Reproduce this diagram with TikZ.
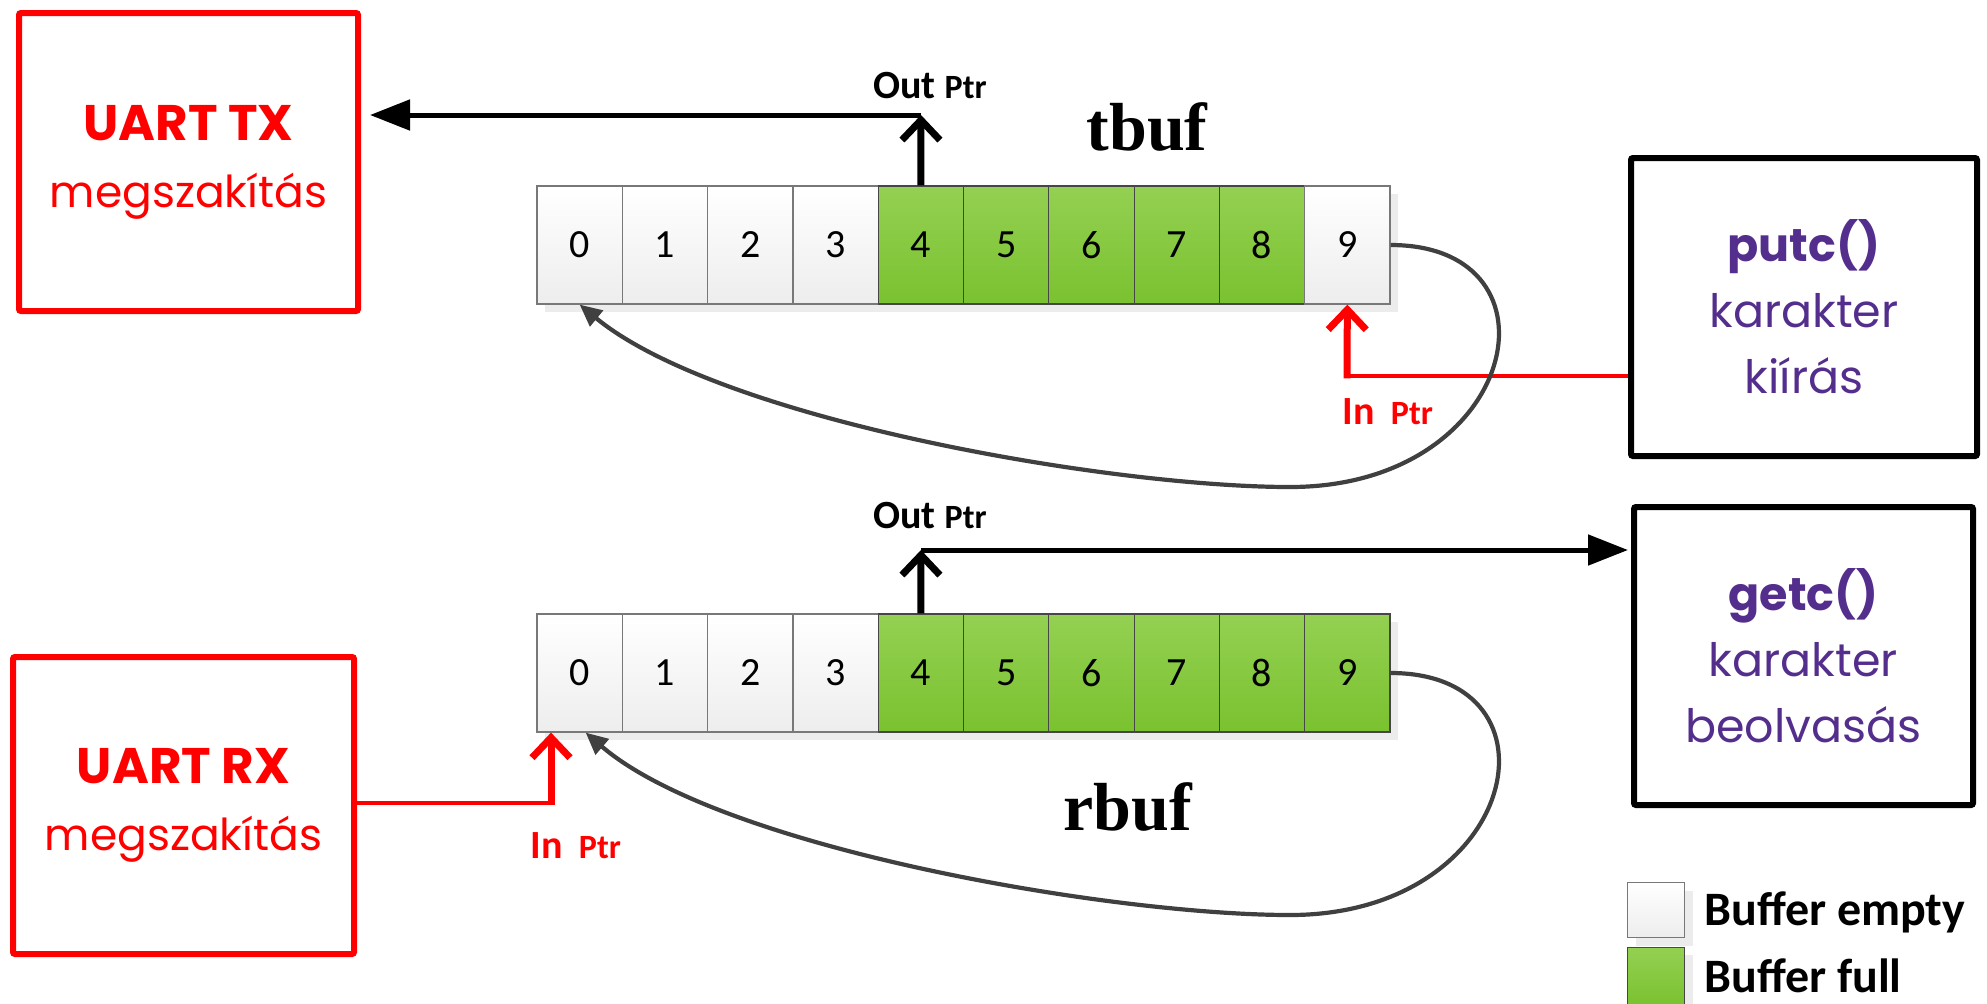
\documentclass[tikz,border=0pt]{standalone}
\usepackage{fontspec}
\setmainfont{Carlito}
\newfontfamily\comic{Poppins}
\newfontfamily\bserif{Liberation Serif}
\usetikzlibrary{arrows.meta}
\definecolor{pRed}{RGB}{255,0,0}
\definecolor{pPurple}{RGB}{84,46,140}
\definecolor{gTop}{RGB}{148,208,82}
\definecolor{gBot}{RGB}{122,194,48}
\definecolor{cellLine}{RGB}{120,120,120}
\definecolor{curveGray}{RGB}{64,64,64}
\newcommand{\bigT}[1]{{\fontsize{25}{33.5}\selectfont\textbf{#1}}}
\newcommand{\ptrT}{{\fontsize{17}{17}\selectfont Ptr}}
\tikzset{
  cellE/.style={draw=cellLine, line width=0.6pt, top color=white, bottom color=gray!14,
    minimum width=42.65pt, minimum height=59pt, inner sep=0pt,
    font=\fontsize{20}{20}\selectfont},
  cellF/.style={cellE, draw=gray!55!black, top color=gTop, bottom color=gBot},
  redbox/.style={draw=pRed, line width=3pt, rounded corners=1pt, inner sep=0pt,
    align=center, text=pRed, font=\comic\fontsize{22}{33.5}\selectfont},
  blkbox/.style={draw=black, line width=3pt, rounded corners=1pt, inner sep=0pt,
    align=center, text=pPurple, font=\comic\fontsize{23}{33}\selectfont},
  chevB/.style={draw=black, line width=3.5pt, -{Straight Barb[length=10pt,width=19pt]}},
  chevR/.style={draw=pRed, line width=3.5pt, -{Straight Barb[length=10pt,width=19pt]}},
  blkarr/.style={draw=black, line width=2.5pt, -{Triangle[length=20pt,width=15pt]}},
  redln/.style={draw=pRed, line width=2.4pt},
  grayarr/.style={draw=curveGray, line width=2.1pt, -{Triangle[length=11pt,width=10pt]}},
  ptrlbl/.style={inner sep=0pt, font=\bfseries\fontsize{20}{20}\selectfont},
  buflbl/.style={inner sep=0pt, font=\bserif\bfseries\fontsize{34}{34}\selectfont},
  legtxt/.style={inner sep=0pt, anchor=west, font=\bfseries\fontsize{24}{24}\selectfont},
}
\begin{document}
\begin{tikzpicture}[x=0.5pt,y=-0.5pt]
\useasboundingbox (0,0) rectangle (1987,1003);

% boxes
\node[redbox, minimum width=169.5pt, minimum height=149pt] (tx) at (188.5,162)
  {\bigT{UART TX}\\megszakítás};
\node[redbox, minimum width=170.5pt, minimum height=148.5pt] (rx) at (183.5,805.5)
  {\bigT{UART RX}\\megszakítás};
\node[blkbox, minimum width=173pt, minimum height=149pt] (putc) at (1804,307)
  {\textbf{putc()}\\karakter\\kiírás};
\node[blkbox, minimum width=169.5pt, minimum height=149pt] (getc) at (1803.5,656)
  {\textbf{getc()}\\karakter\\beolvasás};

% shadows
\fill[gray!15] (545,194) rectangle (1398,312);
\fill[gray!15] (545,622) rectangle (1398,740);

% cells
\foreach \i/\s in {0/cellE,1/cellE,2/cellE,3/cellE,4/cellF,5/cellF,6/cellF,7/cellF,8/cellF,9/cellE}
  \node[\s] (t\i) at ({579.65+85.3*\i},245) {\i};
\foreach \i/\s in {0/cellE,1/cellE,2/cellE,3/cellE,4/cellF,5/cellF,6/cellF,7/cellF,8/cellF,9/cellF}
  \node[\s] (r\i) at ({579.65+85.3*\i},673) {\i};

% labels
\node[buflbl] (tbuf) at (1147,127) {tbuf};
\node[buflbl] (rbuf) at (1128,807) {rbuf};
\node[ptrlbl] (toutl) at (930,86) {Out \ptrT};
\node[ptrlbl] (routl) at (930,516) {Out \ptrT};
\node[ptrlbl, text=pRed] (tinl) at (1388,412) {In\, \ptrT};
\node[ptrlbl, text=pRed] (rinl) at (576,846) {In\, \ptrT};

% top buffer pointers
\coordinate (tout) at (921,115);
\draw[chevB] (t4.north) -- (tout);
\draw[blkarr, shorten >=4.5pt] (tout) -- (tout -| tx.east);
\coordinate (tin) at (1347,376);
\draw[redln] (putc.west |- tin) -- (tin);
\draw[chevR] ([yshift=-1.2pt]tin) -- (t9.south);

% bottom buffer pointers
\coordinate (rout) at (921,550);
\draw[chevB] (r4.north) -- (rout);
\draw[blkarr, shorten >=1.5pt] (rout) -- (rout -| getc.west);
\coordinate (rin) at (551,803);
\draw[redln] (rx.east |- rin) -- (rin);
\draw[chevR] ([yshift=-1.2pt]rin) -- (rin |- r0.south);

% wrap-around curves
\coordinate (tlow) at (1290,487);
\draw[grayarr] (t9.east) .. controls (1570,245) and (1520,487) .. (tlow)
  .. controls (1110,487) and (720,420) .. (t0.south);
\coordinate (rlow) at (1290,915);
\draw[grayarr] (r9.east) .. controls (1570,673) and (1520,915) .. (rlow)
  .. controls (1110,915) and (720,848) .. ([xshift=3pt]r0.south);

% legend
\fill[gray!15] (1636,891) rectangle (1693,946);
\node[cellE, minimum width=28.5pt, minimum height=27.5pt] (lempty) at (1656,910) {};
\fill[gray!15] (1636,955) rectangle (1693,1010);
\node[cellF, minimum width=28.5pt, minimum height=28.5pt] (lfull) at (1656,976) {};
\node[legtxt] (lemptyt) at (1704,912) {Buffer empty};
\node[legtxt] (lfullt) at (1704,976) {Buffer full};
\end{tikzpicture}
\end{document}
